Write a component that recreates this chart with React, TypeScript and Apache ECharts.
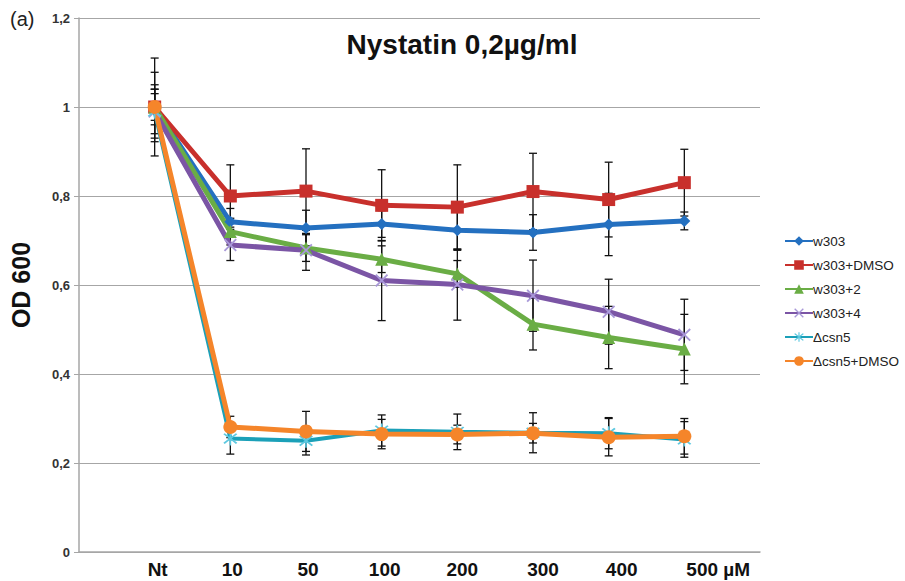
import React, { useEffect, useRef } from "react";
import * as echarts from "echarts";

const xLabels = ["Nt", "10", "50", "100", "200", "300", "400", "500 µM"];
const yTicks = [0, 0.2, 0.4, 0.6, 0.8, 1, 1.2];

const seriesNames = ["w303", "w303+DMSO", "w303+2", "w303+4", "Δcsn5", "Δcsn5+DMSO"];

const w303 = [1.0, 0.742, 0.728, 0.737, 0.723, 0.718, 0.736, 0.744];
const w303Dmso = [1.0, 0.8, 0.811, 0.779, 0.775, 0.81, 0.792, 0.83];
const w303p2 = [1.0, 0.72, 0.683, 0.658, 0.625, 0.512, 0.482, 0.456];
const w303p4 = [0.99, 0.69, 0.678, 0.61, 0.601, 0.576, 0.54, 0.488];
const csn5 = [0.99, 0.255, 0.25, 0.273, 0.27, 0.268, 0.267, 0.253];
const csn5Dmso = [1.0, 0.281, 0.271, 0.265, 0.264, 0.267, 0.258, 0.26];

const w303Err = [0.11, 0.03, 0.04, 0.03, 0.045, 0.04, 0.07, 0.02];
const w303DmsoErr = [0.078, 0.07, 0.095, 0.08, 0.095, 0.086, 0.084, 0.075];
const w303p2Err = [0.04, 0.03, 0.03, 0.03, 0.03, 0.058, 0.07, 0.078];
const w303p4Err = [0.06, 0.035, 0.045, 0.09, 0.08, 0.08, 0.073, 0.08];
const csn5Err = [0.05, 0.035, 0.032, 0.035, 0.04, 0.045, 0.035, 0.04];
const csn5DmsoErr = [0.03, 0.024, 0.045, 0.033, 0.021, 0.022, 0.042, 0.04];

const values = [w303, w303Dmso, w303p2, w303p4, csn5, csn5Dmso];
const errors = [w303Err, w303DmsoErr, w303p2Err, w303p4Err, csn5Err, csn5DmsoErr];

const colors = ["#2470c0", "#c8302c", "#6aad45", "#7b55a5", "#1ba0b8", "#f5852a"];
const markerColors = ["#2470c0", "#c8302c", "#6aad45", "#a898d8", "#5cc8e0", "#f5852a"];

const crossPath =
  "path://M1,0L5,4L9,0L10,1L6,5L10,9L9,10L5,6L1,10L0,9L4,5L0,1Z";
const starPath =
  "path://M1,0L5,4L9,0L10,1L6,5L10,9L9,10L5,6L1,10L0,9L4,5L0,1Z M4.4,-1.5L5.6,-1.5L5.6,11.5L4.4,11.5Z";
const symbols = ["diamond", "rect", "triangle", crossPath, starPath, "circle"];
const symbolSizes = [12, 13, 13, 13, 14, 14];
const lineWidths = [5, 5, 5, 5, 4, 5];

function hasFont(name: string) {
  const c = document.createElement("canvas").getContext("2d");
  if (!c) return false;
  c.font = "bold 24px monospace";
  const a = c.measureText("100 µM Nt 500").width;
  c.font = `bold 24px "${name}", monospace`;
  const b = c.measureText("100 µM Nt 500").width;
  return Math.abs(a - b) > 0.5;
}

export default function App() {
  const ref = useRef<HTMLDivElement>(null);
  useEffect(() => {
    document.body.style.margin = "0";
    if (!ref.current) return;
    const chart = echarts.init(ref.current, undefined, { renderer: "svg" });
    const narrow = hasFont("Liberation Sans Narrow");
    const xFont = narrow ? "'Liberation Sans Narrow'" : "'Liberation Sans'";
    const xSize = narrow ? 23 : 19;
    const shifts = [3, 2, 2, 3, 5, 10, 13];

    const axisData: any[] = [{ value: "", textStyle: {} }];
    xLabels.forEach((l, i) => {
      if (i === xLabels.length - 1) {
        axisData.push({ value: l, textStyle: { align: "left", padding: [0, 0, 0, 2] } });
      } else {
        axisData.push({ value: l, textStyle: { padding: [0, 0, 0, shifts[i] * 2] } });
      }
    });
    axisData.push({ value: " ", textStyle: {} });

    const lineSeries = values.map((vals, s) => ({
      name: seriesNames[s],
      type: "line",
      data: vals.map((v, i) => [i + 1, v]),
      symbol: symbols[s],
      symbolSize: symbolSizes[s],
      lineStyle: { color: colors[s], width: lineWidths[s] },
      itemStyle: { color: markerColors[s] },
      z: 3,
    }));

    const errSeries = values.map((vals, s) => ({
      name: "err" + s,
      type: "custom",
      data: vals.map((v, i) => [i + 1, v, errors[s][i]]),
      encode: { x: 0, y: 1 },
      z: 2,
      silent: true,
      renderItem: (params: any, api: any) => {
        const x = api.value(0);
        const y = api.value(1);
        const e = api.value(2);
        const top = api.coord([x, y + e]);
        const bot = api.coord([x, y - e]);
        const hw = 4;
        const st = { stroke: "#111", lineWidth: 1.3 };
        return {
          type: "group",
          children: [
            { type: "line", shape: { x1: top[0], y1: top[1], x2: bot[0], y2: bot[1] }, style: st },
            { type: "line", shape: { x1: top[0] - hw, y1: top[1], x2: top[0] + hw, y2: top[1] }, style: st },
            { type: "line", shape: { x1: bot[0] - hw, y1: bot[1], x2: bot[0] + hw, y2: bot[1] }, style: st },
          ],
        };
      },
    }));

    chart.setOption({
      animation: false,
      backgroundColor: "#ffffff",
      textStyle: { fontFamily: "'Liberation Sans', Arial, sans-serif" },
      grid: { left: 75, right: 145, top: 18, bottom: 29, containLabel: false },
      graphic: [
        {
          type: "text",
          left: 10,
          top: 9,
          style: { text: "(a)", font: "20px 'Liberation Sans', Arial, sans-serif", fill: "#222" },
        },
        {
          type: "text",
          x: 462,
          y: 44,
          style: {
            text: "Nystatin 0,2µg/ml",
            font: "bold 28px 'Liberation Sans', Arial, sans-serif",
            fill: "#111",
            align: "center",
            verticalAlign: "middle",
          },
        },
      ],
      legend: {
        orient: "vertical",
        left: 779,
        top: 229,
        itemWidth: 28,
        itemHeight: 12,
        itemGap: 10,
        data: seriesNames,
        textStyle: { fontSize: 13.5, color: "#222", lineHeight: 14, padding: [0, 0, 0, -5] },
      },
      xAxis: {
        type: "category",
        boundaryGap: false,
        data: axisData,
        axisLine: { show: true, lineStyle: { color: "#a6a6a6", width: 1.5 } },
        axisTick: { show: false },
        splitLine: { show: false },
        axisLabel: {
          interval: 0,
          margin: 8,
          fontFamily: xFont,
          fontWeight: "bold",
          fontSize: xSize,
          color: "#111",
        },
      },
      yAxis: {
        type: "value",
        min: yTicks[0],
        max: yTicks[yTicks.length - 1],
        interval: 0.2,
        name: "OD 600",
        nameLocation: "middle",
        nameGap: 46,
        nameTextStyle: { fontSize: 25, fontWeight: "bold", color: "#111" },
        axisLine: { show: true, lineStyle: { color: "#a6a6a6", width: 1.5 } },
        axisTick: { show: true, length: 5, lineStyle: { color: "#a6a6a6" } },
        splitLine: { show: true, lineStyle: { color: "#a6a6a6", width: 1 } },
        axisLabel: {
          margin: 9,
          fontSize: 13,
          fontWeight: "bold",
          color: "#333",
          formatter: (v: number) => String(Math.round(v * 10) / 10).replace(".", ","),
        },
      },
      series: [...errSeries, ...lineSeries],
    });
    return () => chart.dispose();
  }, []);
  return <div ref={ref} style={{ width: 905, height: 581 }} />;
}
